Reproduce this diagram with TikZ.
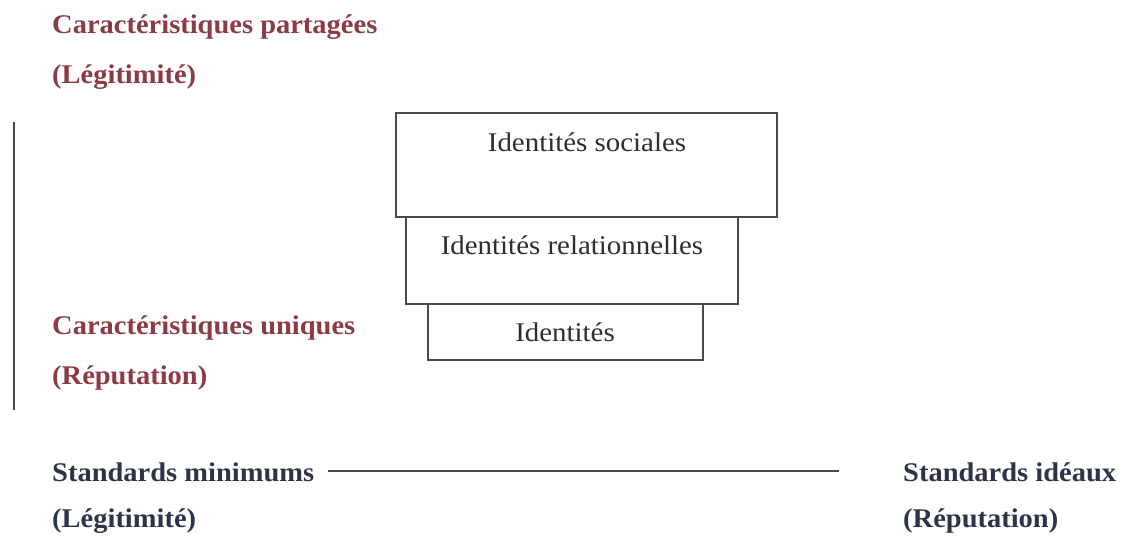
\documentclass[tikz,border=0pt]{standalone}
\usepackage{fontspec}
\setmainfont{Liberation Serif}
\definecolor{titlered}{HTML}{8C3A44}
\definecolor{navy}{HTML}{2B3449}
\definecolor{boxtext}{HTML}{2E2E2E}
\definecolor{boxline}{HTML}{4A4A4A}
\begin{document}
\begin{tikzpicture}[x=1pt,y=-1pt,
  lbl/.style={anchor=west,inner sep=0pt,xscale=1.055,font=\fontsize{27}{27}\selectfont\bfseries},
  redlbl/.style={lbl,text=titlered},
  navylbl/.style={lbl,text=navy},
  idbox/.style={draw=boxline,line width=1.5pt,fill=white},
  idtext/.style={inner sep=0pt,xscale=1.07,text=boxtext,font=\fontsize{27}{27}\selectfont}]
\useasboundingbox (0,0) rectangle (1123,538);
% boxes
\path[idbox] (396,113) rectangle (777,217);
\path[idbox] (406,217) rectangle (738,304);
\path[idbox] (428,304) rectangle (703,360);
\node[idtext] (soc) at (587,142) {Identités sociales};
\node[idtext] (rel) at (572,245) {Identités relationnelles};
\node[idtext] (ind) at (565,332) {Identités};
% left labels
\node[redlbl] (cp) at (52,27) {Caractéristiques partagées};
\node[redlbl] (leg1) at (52,77) {(Légitimité)};
\node[redlbl] (cu) at (52,328) {Caractéristiques uniques};
\node[redlbl] (rep1) at (52,378) {(Réputation)};
% vertical line
\coordinate (vt) at (14,122);
\coordinate (vb) at (14,410);
\draw[boxline,line width=1.5pt] (vt) -- (vb);
% bottom
\node[navylbl] (smin) at (52,472) {Standards minimums};
\node[navylbl] (leg2) at (52,521) {(Légitimité)};
\node[navylbl] (sid) at (903,472) {Standards idéaux};
\node[navylbl] (rep2) at (903,521) {(Réputation)};
\coordinate (la) at (328,471);
\coordinate (lb) at (839,471);
\draw[boxline,line width=1.5pt] (la) -- (lb);
\end{tikzpicture}
\end{document}
